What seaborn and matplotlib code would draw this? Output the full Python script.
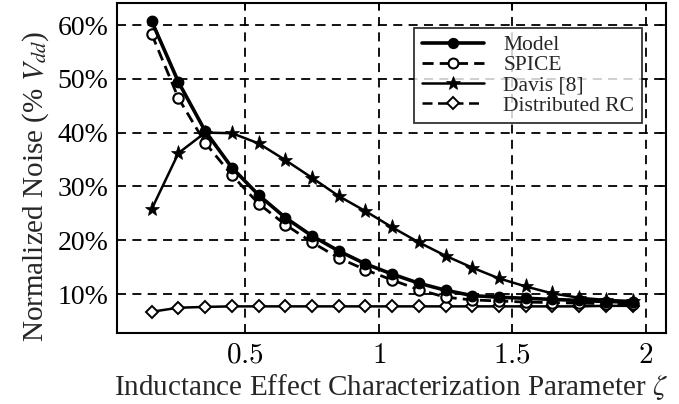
import matplotlib
matplotlib.use("Agg")
import matplotlib.pyplot as plt
from matplotlib.lines import Line2D
import seaborn as sns
import pandas as pd

# ---- data ----
zeta = [0.15, 0.25, 0.35, 0.45, 0.55, 0.65, 0.75, 0.85, 0.95, 1.05,
        1.15, 1.25, 1.35, 1.45, 1.55, 1.65, 1.75, 1.85, 1.95]
model = [60.7, 49.4, 40.3, 33.5, 28.4, 24.2, 20.8, 18.0, 15.6, 13.7,
         12.0, 10.7, 9.7, 9.4, 9.2, 9.0, 8.8, 8.6, 8.5]
spice = [58.3, 46.4, 38.1, 32.1, 26.8, 22.9, 19.6, 16.7, 14.5, 12.6,
         10.8, 9.4, 8.9, 8.7, 8.5, 8.4, 8.3, 8.2, 8.1]
davis = [25.8, 36.2, 40.0, 39.9, 38.0, 34.9, 31.6, 28.2, 25.4, 22.4,
         19.6, 17.1, 14.9, 12.9, 11.4, 10.1, 9.3, 8.9, 8.7]
dist_rc = [6.7, 7.45, 7.6, 7.7, 7.7, 7.7, 7.7, 7.7, 7.7, 7.7,
           7.7, 7.7, 7.7, 7.7, 7.7, 7.7, 7.7, 7.8, 7.8]

series_names = ["Model", "SPICE", "Davis [8]", "Distributed RC"]
xticks = [0.5, 1, 1.5, 2]
xtick_labels = ["0.5", "1", "1.5", "2"]
yticks = [10, 20, 30, 40, 50, 60]
ytick_labels = ["10%", "20%", "30%", "40%", "50%", "60%"]

df = pd.DataFrame({"zeta": zeta, "Model": model, "SPICE": spice,
                   "Davis [8]": davis, "Distributed RC": dist_rc})

sns.set_theme(style="white")
plt.rcParams["font.family"] = ["Liberation Serif", "DejaVu Serif"]
plt.rcParams["mathtext.fontset"] = "stix"

fig = plt.figure(figsize=(6.79, 4.04), dpi=100)
ax = fig.add_axes([117 / 679, 1 - 333 / 404, (666 - 117) / 679, (333 - 3) / 404])

styles = {
    "Model": dict(marker="o", ls="-", lw=2.6, ms=7.5, mfc="black", mec="black", mew=1.0, zorder=5),
    "SPICE": dict(marker="o", ls=(0, (4, 2.2)), lw=2.0, ms=7.5, mfc="white", mec="black", mew=1.5, zorder=4),
    "Davis [8]": dict(marker="*", ls="-", lw=1.8, ms=11, mfc="black", mec="black", mew=0.5, zorder=3),
    "Distributed RC": dict(marker="D", ls="-", lw=1.8, ms=6, mfc="white", mec="black", mew=1.4, zorder=3),
}
legend_ls = {"Model": "-", "SPICE": (0, (4, 2.2)), "Davis [8]": "-", "Distributed RC": (0, (4, 2.2))}

for name in series_names:
    sns.lineplot(data=df, x="zeta", y=name, ax=ax, color="black", legend=False, **styles[name])

ax.set_xlim(0.02, 2.075)
ax.set_ylim(2.75, 64.1)
ax.set_xticks(xticks, labels=["$" + t + "$" for t in xtick_labels])
for t in ax.get_xticklabels():
    t.set_math_fontfamily("cm")
ax.set_yticks(yticks, labels=ytick_labels)

ax.grid(True, color="black", ls=(0, (5, 3.5)), lw=1.3)
ax.set_axisbelow(True)
for sp in ax.spines.values():
    sp.set_color("black")
    sp.set_linewidth(1.5)
ax.tick_params(axis="both", direction="in", length=5, width=1.2, colors="black",
               top=True, right=True)
ax.tick_params(axis="x", labelsize=21, pad=7)
ax.tick_params(axis="y", labelsize=20, pad=6)

ax.set_xlabel(r"Inductance Effect Characterization Parameter $\zeta$", fontsize=21, labelpad=2)
ax.set_ylabel(r"Normalized Noise (% $V_{dd}$)", fontsize=21)
ax.yaxis.set_label_coords(-0.12, 0.445)

handles = []
for name in series_names:
    st = styles[name]
    handles.append(Line2D([], [], color="black", lw=st["lw"], ls=legend_ls[name],
                          marker=st["marker"], ms=st["ms"] * 0.95, mfc=st["mfc"],
                          mec=st["mec"], mew=st["mew"]))
leg = ax.legend(handles, series_names, loc="upper right", bbox_to_anchor=(0.956, 0.925),
                borderaxespad=0, fontsize=15.5, frameon=True, fancybox=False,
                handlelength=2.9, handletextpad=0.9, labelspacing=0.0, borderpad=0.35)
leg.get_frame().set_edgecolor("black")
leg.get_frame().set_linewidth(1.3)
leg.set_zorder(10)

fig.savefig("out.png", dpi=100)
